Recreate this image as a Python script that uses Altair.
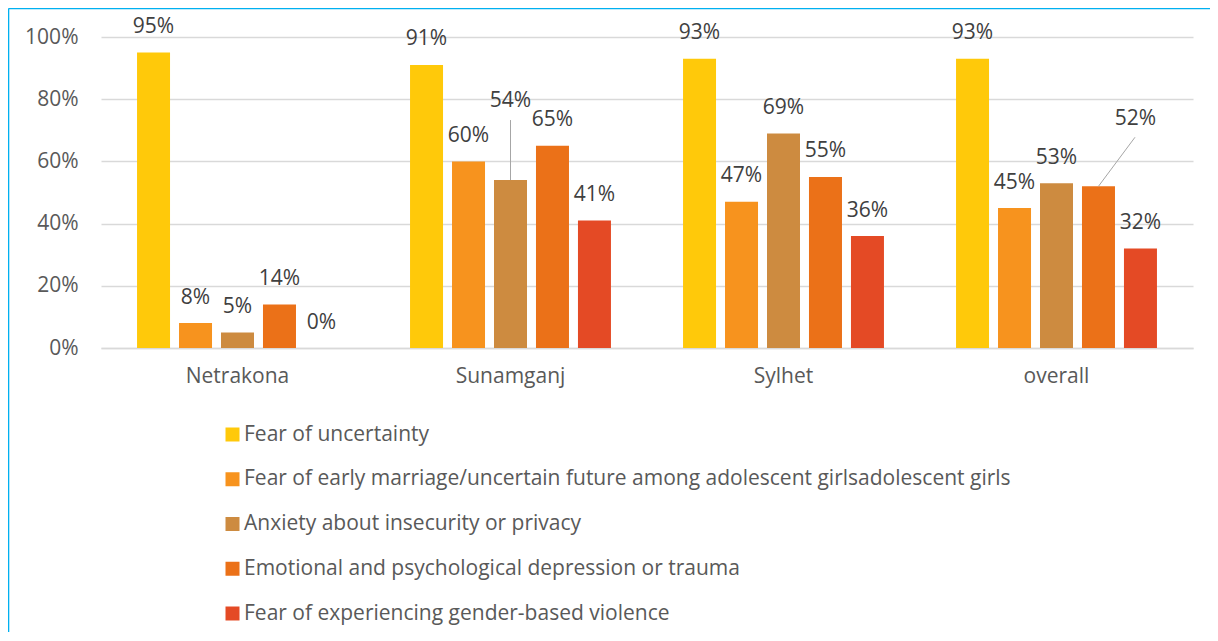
import altair as alt
import pandas as pd

districts = ["Netrakona", "Sunamganj", "Sylhet", "overall"]
series = [
    "Fear of uncertainty",
    "Fear of early marriage/uncertain future among adolescent  girlsadolescent girls",
    "Anxiety about insecurity or privacy",
    "Emotional and psychological depression or trauma",
    "Fear of experiencing gender-based violence",
]
colors = ["#FFC90A", "#F7931E", "#CD8B40", "#EB7118", "#E44A25"]

fear_uncertainty = [95, 91, 93, 93]
fear_early_marriage = [8, 60, 47, 45]
anxiety_privacy = [5, 54, 69, 53]
depression_trauma = [14, 65, 55, 52]
gender_violence = [0, 41, 36, 32]

values_by_series = [fear_uncertainty, fear_early_marriage, anxiety_privacy,
                    depression_trauma, gender_violence]

rows = []
for s, vals in zip(series, values_by_series):
    for d, v in zip(districts, vals):
        rows.append({"district": d, "series": s, "value": v, "label": f"{v}%"})
df = pd.DataFrame(rows)

W, H = 1092, 311
PAD = {"left": 93, "top": 29, "right": 17, "bottom": 284}
FONT = "Open Sans"
FS = 21

x_enc = alt.X("district:N", sort=districts,
              scale=alt.Scale(paddingInner=0.264, paddingOuter=0.132),
              axis=alt.Axis(title=None, labelAngle=0, ticks=False, domain=True,
                            domainColor="#D9D9D9", domainWidth=1.5,
                            labelPadding=17, labelFontSize=FS, labelColor="#595959",
                            labelFont=FONT))
xo_enc = alt.XOffset("series:N", sort=series,
                     scale=alt.Scale(paddingInner=0.214, paddingOuter=0))
y_enc = alt.Y("value:Q", scale=alt.Scale(domain=[0, 100], nice=False),
              axis=alt.Axis(title=None, values=[0, 20, 40, 60, 80, 100],
                            labelExpr="datum.value + '%'", domain=False, ticks=False,
                            gridColor="#D9D9D9", gridWidth=1.5, labelPadding=23,
                            labelFontSize=FS, labelColor="#595959", labelFont=FONT))

base = alt.Chart(df)

bars = base.mark_bar().encode(
    x=x_enc, xOffset=xo_enc, y=y_enc,
    color=alt.Color("series:N", sort=series,
                    scale=alt.Scale(domain=series, range=colors),
                    legend=alt.Legend(title=None, orient="none", legendX=121, legendY=387,
                                      symbolType="square", symbolSize=196,
                                      symbolStrokeWidth=0, rowPadding=22.75,
                                      labelFontSize=FS, labelColor="#595959",
                                      labelFont=FONT, labelLimit=0, labelOffset=1,
                                      padding=0)),
)

special_a = (alt.datum.district == "Sunamganj") & (alt.datum.series == series[2])
special_b = (alt.datum.district == "overall") & (alt.datum.series == series[3])

text_style = dict(baseline="middle", align="center", fontSize=FS, color="#404040", font=FONT)

labels = base.mark_text(dy=-25.5, **text_style).encode(
    x="district:N", xOffset=alt.XOffset("series:N", sort=series), y="value:Q", text="label:N"
).transform_filter(~(special_a | special_b))

label_a = base.mark_text(dy=-79, **text_style).encode(
    x="district:N", xOffset=alt.XOffset("series:N", sort=series), y="value:Q", text="label:N"
).transform_filter(special_a)

label_b = base.mark_text(dx=37, dy=-67, **text_style).encode(
    x="district:N", xOffset=alt.XOffset("series:N", sort=series), y="value:Q", text="label:N"
).transform_filter(special_b)

leader_a = base.mark_rule(color="#A6A6A6", strokeWidth=1, y2Offset=-60).encode(
    x="district:N", xOffset=alt.XOffset("series:N", sort=series),
    y="value:Q", y2=alt.Y2("value:Q")
).transform_filter(special_a)

leader_b = base.mark_rule(color="#A6A6A6", strokeWidth=1, y2Offset=-49, x2Offset=78.5).encode(
    x="district:N", xOffset=alt.XOffset("series:N", sort=series),
    x2=alt.X2("district:N"),
    y="value:Q", y2=alt.Y2("value:Q")
).transform_filter(special_b)

frame_df = pd.DataFrame({"k": [0]})
frame_left = alt.Chart(frame_df).mark_rule(color="#00B0F0", strokeWidth=1.6).encode(
    x=alt.value(-92.5), y=alt.value(-28.5), y2=alt.value(H + 300)
)
frame_top = alt.Chart(frame_df).mark_rule(color="#00B0F0", strokeWidth=1.6).encode(
    y=alt.value(-28.5), x=alt.value(-92.5), x2=alt.value(W + 40)
)

chart = alt.layer(
    bars, leader_a, leader_b, labels, label_a, label_b, frame_left, frame_top
).properties(
    width=W, height=H,
    autosize=alt.AutoSizeParams(type="none"),
    padding=PAD,
    background="white",
).configure_view(stroke="transparent", strokeWidth=0)

chart.save("out.html", embed_options={"renderer": "svg", "actions": False})
